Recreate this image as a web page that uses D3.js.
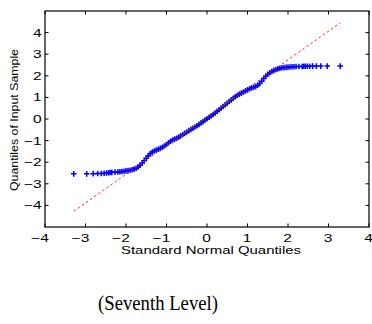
<!DOCTYPE html>
<html>
<head>
<meta charset="utf-8">
<script src="https://cdn.jsdelivr.net/npm/d3@7"></script>
<style>
  html, body { margin: 0; padding: 0; background: #fff; }
  svg { display: block; }
</style>
</head>
<body>
<svg id="chart" width="372" height="324"></svg>
<script>
// Theoretical (standard normal) quantiles of the plotted sample points
const normalQuantiles = [
  -3.29, -2.97, -2.81, -2.70, -2.61, -2.54, -2.48, -2.43, -2.39, -2.35, -2.27,
  -2.20, -2.15, -2.10, -2.05, -2.00, -1.95, -1.90, -1.85, -1.80, -1.75, -1.70,
  -1.65, -1.60, -1.55, -1.50, -1.45, -1.40, -1.35, -1.30, -1.25, -1.20, -1.15,
  -1.10, -1.05, -1.00, -0.95, -0.90, -0.85, -0.80, -0.75, -0.70, -0.65, -0.60,
  -0.55, -0.50, -0.45, -0.40, -0.35, -0.30, -0.25, -0.20, -0.15, -0.10, -0.05,
  0.00, 0.05, 0.10, 0.15, 0.20, 0.25, 0.30, 0.35, 0.40, 0.45, 0.50,
  0.55, 0.60, 0.65, 0.70, 0.75, 0.80, 0.85, 0.90, 0.95, 1.00, 1.05,
  1.10, 1.15, 1.20, 1.25, 1.30, 1.35, 1.40, 1.45, 1.50, 1.55, 1.60,
  1.65, 1.70, 1.75, 1.80, 1.85, 1.90, 1.95, 2.00, 2.05, 2.10, 2.15, 2.20,
  2.27, 2.35, 2.39, 2.43, 2.48, 2.54, 2.61, 2.70, 2.81, 2.97, 3.29
];
// Sample quantiles
const sampleQuantiles = [
  -2.54, -2.54, -2.53, -2.52, -2.52, -2.51, -2.50, -2.49, -2.48, -2.47, -2.46,
  -2.45, -2.44, -2.43, -2.42, -2.40, -2.39, -2.37, -2.35, -2.32, -2.28, -2.22,
  -2.14, -2.04, -1.93, -1.82, -1.70, -1.60, -1.53, -1.48, -1.44, -1.40, -1.36,
  -1.31, -1.25, -1.18, -1.10, -1.03, -0.97, -0.93, -0.89, -0.84, -0.78, -0.72,
  -0.66, -0.60, -0.54, -0.48, -0.43, -0.37, -0.31, -0.25, -0.18, -0.12, -0.05,
  0.01, 0.08, 0.14, 0.21, 0.28, 0.36, 0.43, 0.51, 0.58, 0.66, 0.73,
  0.81, 0.88, 0.96, 1.03, 1.10, 1.15, 1.20, 1.25, 1.30, 1.35, 1.40,
  1.44, 1.47, 1.50, 1.56, 1.64, 1.75, 1.87, 1.98, 2.07, 2.14, 2.20,
  2.25, 2.29, 2.32, 2.35, 2.37, 2.38, 2.39, 2.40, 2.41, 2.42, 2.42, 2.43,
  2.43, 2.43, 2.44, 2.44, 2.44, 2.44, 2.45, 2.45, 2.45, 2.45, 2.45
];
// Reference line (extended, dashed) end points
const refLineX = [-3.29, 3.29];
const refLineY = [-4.27, 4.45];
// Fitted segment between first and third quartiles
const quartileLineX = [-0.67, 0.67];
const quartileLineY = [-0.79, 0.99];

const xTicks = [-4, -3, -2, -1, 0, 1, 2, 3, 4];
const yTicks = [-4, -3, -2, -1, 0, 1, 2, 3, 4];
const xDomain = [-4, 4];
const yDomain = [-5, 5];
const xLabel = "Standard Normal Quantiles";
const yLabel = "Quantiles of Input Sample";
const caption = "(Seventh Level)";

const svg = d3.select("#chart");
const L = 45, R = 369, T = 11, B = 227;
const x = d3.scaleLinear().domain(xDomain).range([L, R]);
const y = d3.scaleLinear().domain(yDomain).range([B, T]);
const fmt = d => (d < 0 ? "\u2212" + Math.abs(d) : String(d));
const tickLen = 3.5;

// Points (blue plus markers)
const pts = normalQuantiles.map((q, i) => [q, sampleQuantiles[i]]);
const h = 2.8;
svg.append("g")
  .selectAll("path")
  .data(pts)
  .join("path")
  .attr("d", d => {
    const px = x(d[0]), py = y(d[1]);
    return `M${px - h},${py}h${2 * h}M${px},${py - h}v${2 * h}`;
  })
  .attr("stroke", "#0000ff")
  .attr("stroke-width", 1.5)
  .attr("fill", "none");

const line = d3.line().x(d => x(d[0])).y(d => y(d[1]));
// Quartile segment (green)
svg.append("path")
  .datum(quartileLineX.map((v, i) => [v, quartileLineY[i]]))
  .attr("d", line)
  .attr("stroke", "#2a9a2a")
  .attr("stroke-width", 1)
  .attr("stroke-opacity", 0.7)
  .attr("fill", "none");
// Extended reference line (red dashed)
svg.append("path")
  .datum(refLineX.map((v, i) => [v, refLineY[i]]))
  .attr("d", line)
  .attr("stroke", "#ff0000")
  .attr("stroke-width", 1)
  .attr("stroke-dasharray", "2.5,2.5")
  .attr("stroke-opacity", 0.85)
  .attr("fill", "none");

// Frame box
svg.append("rect")
  .attr("x", L).attr("y", T)
  .attr("width", R - L).attr("height", B - T)
  .attr("fill", "none").attr("stroke", "#000").attr("stroke-width", 1.2);

// Ticks (inward, mirrored)
const tg = svg.append("g").attr("stroke", "#000").attr("stroke-width", 1);
xTicks.forEach(t => {
  tg.append("line").attr("x1", x(t)).attr("x2", x(t)).attr("y1", B).attr("y2", B - tickLen);
  tg.append("line").attr("x1", x(t)).attr("x2", x(t)).attr("y1", T).attr("y2", T + tickLen);
});
yTicks.forEach(t => {
  tg.append("line").attr("y1", y(t)).attr("y2", y(t)).attr("x1", L).attr("x2", L + tickLen);
  tg.append("line").attr("y1", y(t)).attr("y2", y(t)).attr("x1", R).attr("x2", R - tickLen);
});

const font = "'Liberation Sans', Arial, Helvetica, sans-serif";
const stretch = 1.35;
function widen(sel, factor) {
  sel.each(function () {
    const w = this.getComputedTextLength();
    d3.select(this).attr("textLength", w * factor).attr("lengthAdjust", "spacingAndGlyphs");
  });
}

// X tick labels
const xl = svg.append("g").selectAll("text").data(xTicks).join("text")
  .attr("x", d => x(d) + 3.8)
  .attr("y", 242)
  .attr("text-anchor", "end")
  .attr("font-family", font)
  .attr("font-size", 11.5)
  .attr("fill", "#000")
  .text(fmt);
widen(xl, stretch);

// Y tick labels
const yl = svg.append("g").selectAll("text").data(yTicks).join("text")
  .attr("x", 41.7)
  .attr("y", d => y(d) + 4)
  .attr("text-anchor", "end")
  .attr("font-family", font)
  .attr("font-size", 11.5)
  .attr("fill", "#000")
  .text(fmt);
widen(yl, stretch);

// Axis labels
svg.append("text")
  .attr("x", 211).attr("y", 253.5)
  .attr("text-anchor", "middle")
  .attr("font-family", font).attr("font-size", 11.5)
  .attr("textLength", 180).attr("lengthAdjust", "spacingAndGlyphs")
  .text(xLabel);
svg.append("text")
  .attr("transform", "translate(17.5,120) rotate(-90)")
  .attr("text-anchor", "middle")
  .attr("font-family", font).attr("font-size", 11.5)
  .attr("textLength", 142).attr("lengthAdjust", "spacingAndGlyphs")
  .text(yLabel);

// Caption
svg.append("text")
  .attr("x", 98).attr("y", 309.5)
  .attr("font-family", "'Liberation Serif', 'Times New Roman', serif")
  .attr("font-size", 20.5)
  .attr("textLength", 120).attr("lengthAdjust", "spacingAndGlyphs")
  .text(caption);
</script>
</body>
</html>
